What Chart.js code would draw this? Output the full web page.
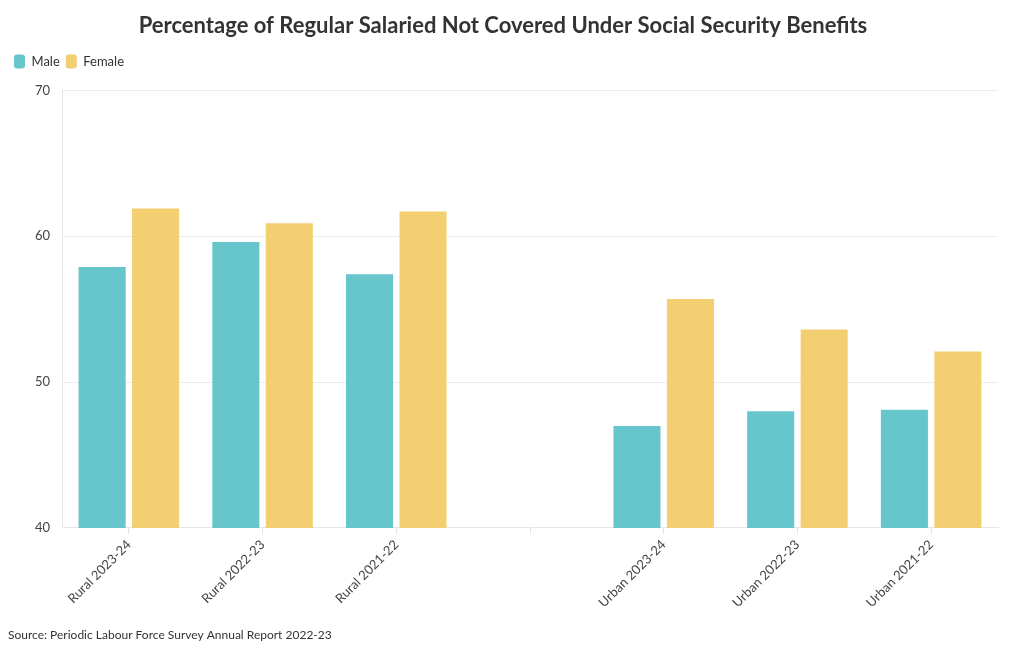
<!DOCTYPE html>
<html>
<head>
<meta charset="utf-8">
<script src="https://cdn.jsdelivr.net/npm/chart.js@4"></script>
<style>
  body { margin: 0; background: #fff; }
  #wrap { width: 1020px; height: 650px; }
</style>
</head>
<body>
<div id="wrap"><canvas id="chart"></canvas></div>
<script>
const categories = [
  "Rural 2023-24",
  "Rural 2022-23",
  "Rural 2021-22",
  "",
  "Urban 2023-24",
  "Urban 2022-23",
  "Urban 2021-22",
];
const maleValues = [57.9, 59.6, 57.4, null, 47.0, 48.0, 48.1];
const femaleValues = [61.9, 60.9, 61.7, null, 55.7, 53.6, 52.1];
const yTicks = [40, 50, 60, 70];

const ctx = document.getElementById("chart");

Chart.defaults.color = "#444";
Chart.defaults.font.family = "Lato";

// push the plot area a bit further below the legend
const legendGap = {
  id: "legendGap",
  beforeInit(chart) {
    const fit = chart.legend.fit;
    chart.legend.fit = function () {
      fit.bind(chart.legend)();
      this.height += 12;
    };
  },
};

new Chart(ctx, {
  type: "bar",
  data: {
    labels: categories,
    datasets: [
      {
        label: "Male",
        data: maleValues,
        backgroundColor: "#67c5cc",
        categoryPercentage: 0.8,
        barPercentage: 0.88,
      },
      {
        label: "Female",
        data: femaleValues,
        backgroundColor: "#f4cf72",
        categoryPercentage: 0.8,
        barPercentage: 0.88,
      },
    ],
  },
  plugins: [legendGap],
  options: {
    responsive: true,
    maintainAspectRatio: false,
    animation: false,
    layout: {
      padding: { left: 8, right: 22, top: 0, bottom: 4 },
    },
    plugins: {
      title: {
        display: true,
        text: "Percentage of Regular Salaried Not Covered Under Social Security Benefits",
        color: "#333",
        font: { size: 22, weight: "bold" },
        padding: { top: 13, bottom: 9 },
      },
      legend: {
        align: "start",
        labels: {
          boxWidth: 11,
          boxHeight: 14,
          useBorderRadius: true,
          borderRadius: 3,
          padding: 6,
          color: "#333",
          font: { size: 13 },
        },
      },
      subtitle: {
        display: true,
        position: "bottom",
        align: "start",
        text: "Source: Periodic Labour Force Survey Annual Report 2022-23",
        color: "#333",
        font: { size: 12 },
        padding: { top: 14, bottom: 4 },
      },
      tooltip: { enabled: false },
    },
    scales: {
      x: {
        grid: {
          offset: false,
          drawOnChartArea: false,
          drawTicks: true,
          tickLength: 6,
          color: "#e6e6e6",
        },
        border: { color: "#e6e6e6" },
        ticks: {
          maxRotation: 45,
          minRotation: 45,
          autoSkip: false,
          font: { size: 13 },
          color: "#444",
        },
      },
      y: {
        min: 40,
        max: 70,
        afterBuildTicks: (axis) => {
          axis.ticks = yTicks.map((v) => ({ value: v }));
        },
        afterFit: (axis) => {
          axis.width = 54;
        },
        grid: {
          color: "#ececec",
          drawTicks: false,
        },
        border: { color: "#e6e6e6" },
        ticks: {
          padding: 12,
          font: { size: 13 },
          color: "#444",
        },
      },
    },
  },
});
</script>
</body>
</html>
